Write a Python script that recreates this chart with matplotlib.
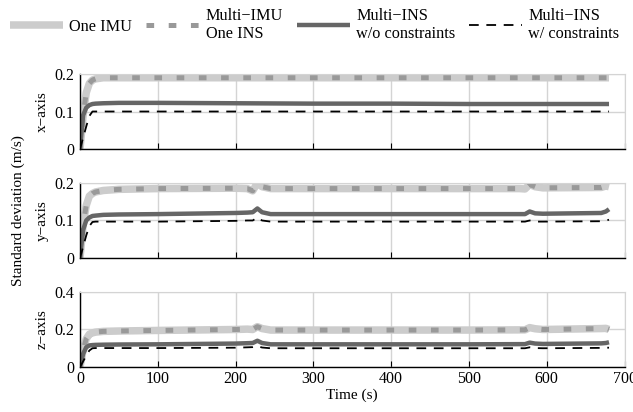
import matplotlib
matplotlib.use('Agg')
import matplotlib.pyplot as plt

plt.rcParams['font.family'] = ['Liberation Serif', 'DejaVu Serif']
plt.rcParams['font.size'] = 11
plt.rcParams['lines.scale_dashes'] = False

labels = ['One IMU', 'Multi\u2212IMU\nOne INS', 'Multi\u2212INS\nw/o constraints', 'Multi\u2212INS\nw/ constraints']
axis_names = ['x\u2212axis', 'y\u2212axis', 'z\u2212axis']

# x-axis panel
t_x = [0, 4, 8, 12, 16, 20, 30, 50, 100, 200, 300, 400, 500, 600, 680]
one_imu_x = [0, 0.09, 0.15, 0.175, 0.184, 0.187, 0.19, 0.19, 0.19, 0.19, 0.19, 0.19, 0.19, 0.19, 0.19]
multi_imu_x = [0, 0.09, 0.15, 0.175, 0.184, 0.187, 0.19, 0.19, 0.19, 0.19, 0.19, 0.19, 0.19, 0.19, 0.19]
wo_x = [0, 0.09, 0.11, 0.117, 0.12, 0.121, 0.122, 0.123, 0.123, 0.122, 0.121, 0.121, 0.12, 0.12, 0.12]
w_x = [0, 0.03, 0.06, 0.088, 0.1, 0.1, 0.1, 0.1, 0.1, 0.1, 0.1, 0.1, 0.1, 0.1, 0.1]

# y-axis panel
t_y = [0, 4, 8, 12, 16, 20, 30, 50, 100, 200, 215, 222, 228, 234, 245, 300, 400, 500, 565, 572, 578, 585, 595, 670, 676, 680]
one_imu_y = [0, 0.09, 0.14, 0.165, 0.172, 0.176, 0.18, 0.183, 0.185, 0.186, 0.185, 0.179, 0.2, 0.19, 0.185, 0.185, 0.185, 0.185, 0.185, 0.184, 0.196, 0.19, 0.187, 0.188, 0.192, 0.19]
multi_imu_y = [0, 0.09, 0.14, 0.165, 0.172, 0.176, 0.18, 0.183, 0.185, 0.186, 0.185, 0.179, 0.2, 0.19, 0.185, 0.185, 0.185, 0.185, 0.185, 0.184, 0.196, 0.19, 0.187, 0.188, 0.192, 0.19]
wo_y = [0, 0.075, 0.1, 0.108, 0.112, 0.113, 0.115, 0.116, 0.117, 0.12, 0.121, 0.122, 0.132, 0.122, 0.117, 0.117, 0.117, 0.117, 0.117, 0.117, 0.124, 0.119, 0.118, 0.12, 0.124, 0.13]
w_y = [0, 0.03, 0.06, 0.085, 0.096, 0.097, 0.097, 0.097, 0.097, 0.099, 0.1, 0.1, 0.108, 0.1, 0.097, 0.097, 0.097, 0.097, 0.097, 0.097, 0.1, 0.097, 0.097, 0.098, 0.1, 0.102]

# z-axis panel
t_z = [0, 4, 8, 12, 16, 20, 30, 50, 100, 200, 215, 222, 228, 234, 245, 300, 400, 500, 565, 572, 578, 585, 595, 670, 676, 680]
one_imu_z = [0, 0.09, 0.15, 0.175, 0.182, 0.186, 0.19, 0.192, 0.195, 0.2, 0.202, 0.2, 0.215, 0.205, 0.197, 0.197, 0.197, 0.197, 0.198, 0.198, 0.21, 0.204, 0.2, 0.205, 0.206, 0.2]
multi_imu_z = [0, 0.09, 0.15, 0.175, 0.182, 0.186, 0.19, 0.192, 0.195, 0.2, 0.202, 0.2, 0.215, 0.205, 0.197, 0.197, 0.197, 0.197, 0.198, 0.198, 0.21, 0.204, 0.2, 0.205, 0.206, 0.2]
wo_z = [0, 0.07, 0.105, 0.115, 0.117, 0.118, 0.119, 0.12, 0.121, 0.125, 0.127, 0.128, 0.14, 0.128, 0.121, 0.121, 0.121, 0.121, 0.122, 0.122, 0.13, 0.125, 0.123, 0.126, 0.128, 0.132]
w_z = [0, 0.03, 0.06, 0.088, 0.1, 0.101, 0.101, 0.101, 0.101, 0.103, 0.105, 0.106, 0.112, 0.104, 0.1, 0.1, 0.1, 0.1, 0.1, 0.1, 0.105, 0.101, 0.1, 0.102, 0.103, 0.103]

panels = [
    (t_x, one_imu_x, multi_imu_x, wo_x, w_x, [0, 0.1, 0.2]),
    (t_y, one_imu_y, multi_imu_y, wo_y, w_y, [0, 0.1, 0.2]),
    (t_z, one_imu_z, multi_imu_z, wo_z, w_z, [0, 0.2, 0.4]),
]
xticks = [0, 100, 200, 300, 400, 500, 600, 700]

fig = plt.figure(figsize=(6.33, 4.12), dpi=100)
left, width = 0.1264, 0.8603
bottoms = [0.6383, 0.3738, 0.1092]
height = 0.1821

grid_col = '#d4d4d4'
handles = None
for i, (t, a, b, c, d, yt) in enumerate(panels):
    ax = fig.add_axes([left, bottoms[i], width, height])
    h1, = ax.plot(t, a, color='#cccccc', lw=5.4, solid_capstyle='butt', label=labels[0])
    h2, = ax.plot(t, b, color='#999999', lw=3.6, dashes=(5.5, 10.5), dash_capstyle='butt', label=labels[1])
    h3, = ax.plot(t, c, color='#666666', lw=3.2, solid_capstyle='butt', label=labels[2])
    h4, = ax.plot(t, d, color='black', lw=1.3, dashes=(7, 5.5), label=labels[3])
    handles = [h1, h2, h3, h4]
    ax.set_xlim(0, 700)
    ax.set_ylim(yt[0], yt[-1])
    ax.set_yticks(yt)
    ax.set_yticklabels(['0'] + ['%.1f' % v for v in yt[1:]])
    ax.set_xticks(xticks)
    if i < 2:
        ax.set_xticklabels([])
    ax.grid(True, color=grid_col, lw=1.0)
    ax.set_axisbelow(True)
    ax.tick_params(direction='in', length=4, width=0.8, labelsize=11.5, pad=3)
    ax.tick_params(axis='y', length=0, pad=4)
    ax.spines['top'].set_color(grid_col)
    ax.spines['right'].set_color(grid_col)
    ax.spines['left'].set_linewidth(1.0)
    ax.spines['bottom'].set_linewidth(1.0)
    ax.set_ylabel(axis_names[i], fontsize=11, labelpad=4)
    if i == 2:
        ax.set_xlabel('Time (s)', fontsize=11, labelpad=1)

fig.text(0.029, 0.49, 'Standard deviation (m/s)', rotation=90, ha='center', va='center', fontsize=11)

fig.legend(handles=handles, labels=labels, loc='center left', bbox_to_anchor=(0.016, 0.939),
           ncol=4, frameon=False, fontsize=11.7, handlelength=3.25, handletextpad=0.4,
           columnspacing=0.85, borderaxespad=0, borderpad=0)

fig.savefig('out.png', dpi=100)
